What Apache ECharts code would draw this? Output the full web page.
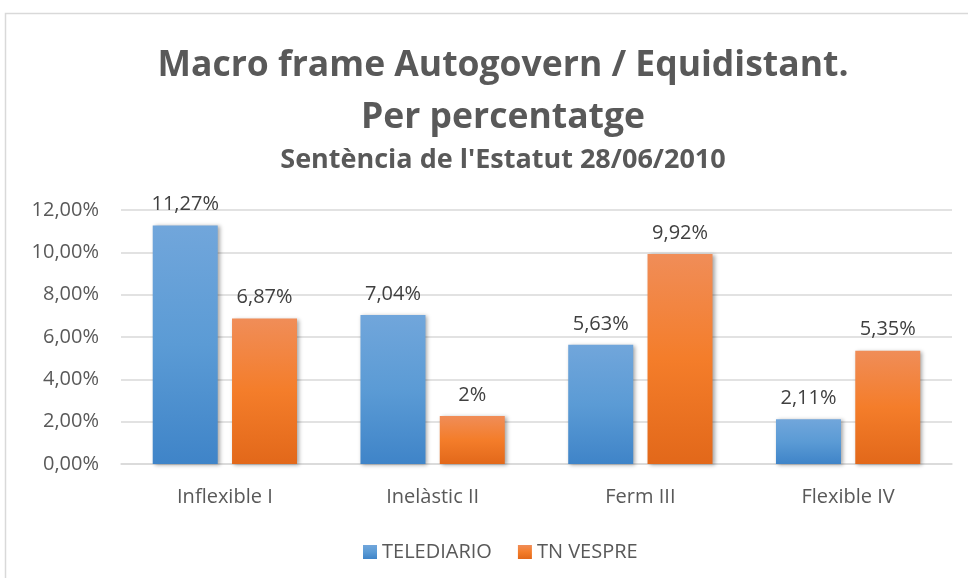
<!DOCTYPE html>
<html>
<head>
<meta charset="utf-8">
<script src="https://cdn.jsdelivr.net/npm/echarts@6/dist/echarts.min.js"></script>
<style>
  html, body { margin: 0; padding: 0; background: #fff; }
  #chart { width: 968px; height: 578px; }
</style>
</head>
<body>
<div id="chart"></div>
<script>
// dades llegides del gràfic
var categories = ['Inflexible I', 'Inelàstic II', 'Ferm III', 'Flexible IV'];
var telediario = [11.27, 7.04, 5.63, 2.11];
var tnVespre = [6.87, 2.27, 9.92, 5.35];
var telediarioLabels = ['11,27%', '7,04%', '5,63%', '2,11%'];
var tnVespreLabels = ['6,87%', '2%', '9,92%', '5,35%'];
var seriesNames = ['TELEDIARIO', 'TN VESPRE'];

var txtColor = '#595959';
var gridColor = '#D9D9D9';
var font = 'Open Sans';
var titleX = 498;   // el marc original és més ample que la imatge

function grad(top, mid, bottom) {
    return new echarts.graphic.LinearGradient(0, 0, 0, 1, [
        {offset: 0, color: top},
        {offset: 0.5, color: mid},
        {offset: 1, color: bottom}
    ]);
}

function barSeries(name, data, labels, color) {
    return {
        name: name,
        type: 'bar',
        data: data,
        barWidth: 65,
        barGap: '22%',
        itemStyle: {
            color: color,
            shadowBlur: 4,
            shadowColor: 'rgba(0,0,0,0.35)',
            shadowOffsetX: 2,
            shadowOffsetY: 1
        },
        label: {
            show: true,
            position: 'top',
            distance: 11,
            color: '#404040',
            fontFamily: font,
            fontSize: 20,
            formatter: function (p) {
                return labels[p.dataIndex];
            }
        }
    };
}

function titleLine(text, top, size) {
    return {
        text: text,
        left: titleX,
        textAlign: 'center',
        top: top,
        textStyle: {
            color: txtColor,
            fontFamily: font,
            fontWeight: 'bold',
            fontSize: size
        }
    };
}

var chart = echarts.init(document.getElementById('chart'), null, {renderer: 'canvas'});

var option = {
    animation: false,
    backgroundColor: '#fff',
    graphic: [{
        type: 'rect',
        shape: {x: 5.5, y: 13.5, width: 1000, height: 1000},
        style: {fill: 'none', stroke: gridColor, lineWidth: 1.5},
        silent: true
    }],
    title: [
        titleLine('Macro frame Autogovern / Equidistant.', 43, 35.5),
        titleLine('Per percentatge', 95, 35.5),
        titleLine("Sentència de l'Estatut 28/06/2010", 142, 27)
    ],
    legend: {
        data: seriesNames,
        top: 537,
        left: 358,
        itemWidth: 14,
        itemHeight: 14,
        itemGap: 26,
        icon: 'rect',
        textStyle: {color: txtColor, fontFamily: font, fontSize: 20}
    },
    grid: {
        left: 121,
        right: 16,
        top: 210,
        bottom: 114
    },
    xAxis: {
        type: 'category',
        data: categories,
        axisTick: {show: false},
        axisLine: {lineStyle: {color: gridColor, width: 1.5}},
        axisLabel: {
            color: txtColor,
            fontFamily: font,
            fontSize: 20,
            margin: 23
        }
    },
    yAxis: {
        type: 'value',
        min: 0,
        max: 12,
        interval: 2,
        axisLine: {show: false},
        axisTick: {show: false},
        splitLine: {lineStyle: {color: gridColor, width: 1.5}},
        axisLabel: {
            color: txtColor,
            fontFamily: font,
            fontSize: 20,
            margin: 22,
            formatter: function (v) {
                return v.toFixed(2).replace('.', ',') + '%';
            }
        }
    },
    series: [
        barSeries(seriesNames[0], telediario, telediarioLabels, grad('#71A6DB', '#5B9BD5', '#3F84C8')),
        barSeries(seriesNames[1], tnVespre, tnVespreLabels, grad('#F08D58', '#F47D2A', '#E2681A'))
    ]
};

chart.setOption(option);
</script>
</body>
</html>
